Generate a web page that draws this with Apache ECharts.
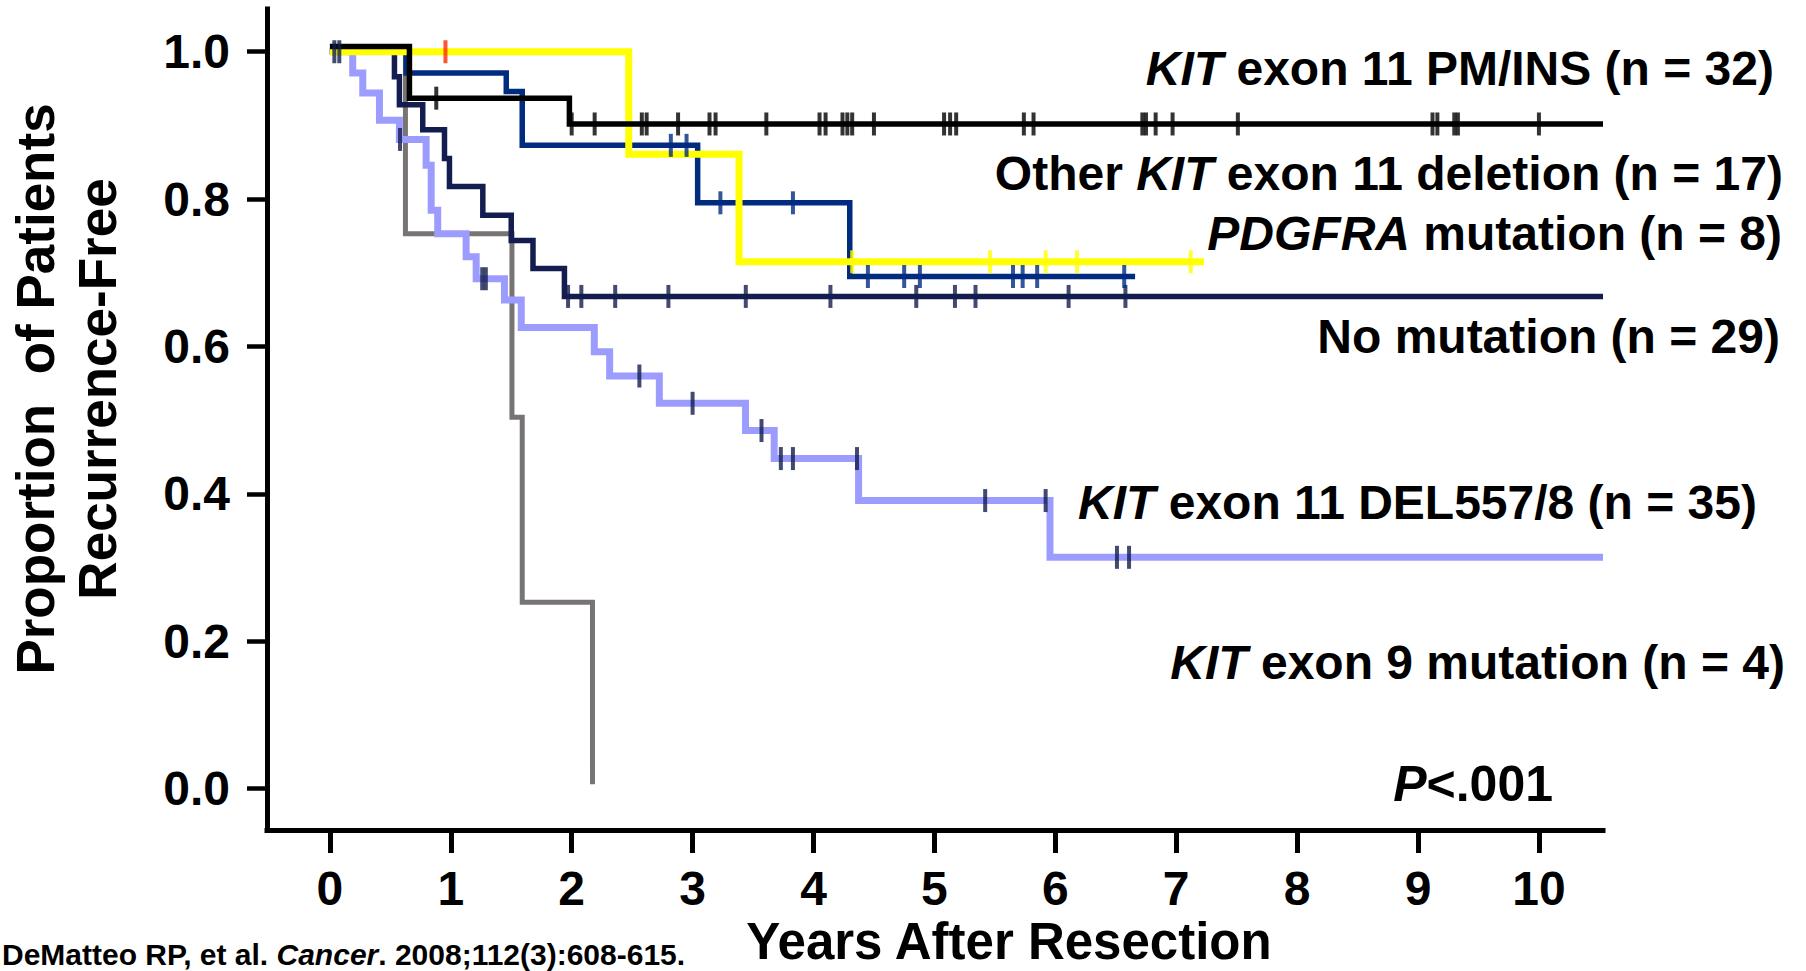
<!DOCTYPE html>
<html>
<head>
<meta charset="utf-8">
<script src="https://cdn.jsdelivr.net/npm/echarts@6/dist/echarts.min.js"></script>
<style>
  html, body { margin: 0; padding: 0; background: #fff; }
  #chart { width: 1806px; height: 971px; }
</style>
</head>
<body>
<div id="chart"></div>
<script>
// ---------------- DATA ----------------
// Kaplan-Meier step curves: [years, proportion recurrence-free]
const pmInsCurve = [[0,1.007],[0.658,0.937],[1.981,0.902],[10.53,0.902]];
const pmInsCensor = [0.88,2.00,2.19,2.58,2.62,2.88,3.14,3.19,3.61,4.05,4.10,4.24,4.28,4.32,4.50,5.08,5.13,5.18,5.74,5.82,6.72,6.75,6.83,6.97,7.51,9.12,9.16,9.30,9.33,10.00];

const otherDelCurve = [[0,1.0],[0.631,0.971],[1.459,0.946],[1.591,0.873],[3.042,0.795],[4.30,0.695],[6.66,0.695]];
const otherDelCensor = [2.82,2.95,3.23,3.83,4.45,4.75,4.88,5.65,5.73,5.85,6.57];

const pdgfraCurve = [[0,1.0],[2.472,0.861],[3.384,0.715],[7.23,0.715]];
const pdgfraCensor = [0.956,4.32,5.46,5.92,6.18,7.12];

const noMutCurve = [[0,1.0],[0.534,0.966],[0.575,0.928],[0.768,0.894],[0.948,0.855],[0.989,0.817],[1.265,0.778],[1.50,0.744],[1.68,0.706],[1.94,0.668],[10.53,0.668]];
const noMutCensor = [0.037,0.078,1.97,2.08,2.36,2.80,3.44,4.14,4.85,5.17,5.34,6.11,6.58];

const del557Curve = [[0,1.0],[0.189,0.971],[0.272,0.944],[0.410,0.907],[0.575,0.881],[0.796,0.846],[0.838,0.785],[0.892,0.753],[1.127,0.722],[1.210,0.692],[1.444,0.663],[1.583,0.626],[2.187,0.593],[2.314,0.560],[2.725,0.523],[3.438,0.486],[3.675,0.448],[4.373,0.391],[5.956,0.314],[10.53,0.314]];
const del557Censor = [0.58,1.26,1.29,2.56,3.00,3.57,3.73,3.83,4.36,5.42,5.92,6.51,6.61];

const exon9Curve = [[0,1.0],[0.625,0.753],[1.506,0.504],[1.591,0.253],[2.172,0.006]];

const xTickValues = [0,1,2,3,4,5,6,7,8,9,10];
const yTickValues = [0,0.2,0.4,0.6,0.8,1.0];

const groupLabels = [
  '{i|KIT} exon 11 PM/INS (n = 32)',
  'Other {i|KIT} exon 11 deletion (n = 17)',
  '{i|PDGFRA} mutation (n = 8)',
  'No mutation (n = 29)',
  '{i|KIT} exon 11 DEL557/8 (n = 35)',
  '{i|KIT} exon 9 mutation (n = 4)'
];
const pValueLabel = '{i|P}<.001';
const xTitle = 'Years After Resection';
const yTitleLines = ['Proportion  of Patients', 'Recurrence-Free'];
const citation = 'DeMatteo RP, et al. {i|Cancer}. 2008;112(3):608-615.';

// ---------------- helpers ----------------
function stepValue(curve, t) {
  let v = curve[0][1];
  for (const p of curve) { if (p[0] <= t) v = p[1]; }
  return v;
}
function censorData(curve, times) {
  return times.map(t => [t, stepValue(curve, t)]);
}

const FONT = "'Liberation Sans', Arial, Helvetica, sans-serif";
const C = {
  black: '#000000', blue: '#002b7f', yellow: '#ffff00', navy: '#131d4f',
  light: '#9c9cff', gray: '#787474', red: '#ff2a00'
};

function lineSeries(name, data, color, width, z) {
  return { name, type: 'line', step: 'end', data, symbol: 'none', showSymbol: false,
    lineStyle: { color, width, cap: 'butt', join: 'miter' }, z, silent: true, animation: false };
}
function tickSeries(name, data, color, z) {
  return { name, type: 'scatter', data, symbol: 'rect', symbolSize: [4, 23],
    itemStyle: { color }, z, silent: true, animation: false };
}

const pdgfraTicks = censorData(pdgfraCurve, pdgfraCensor).map((p, i) =>
  i === 0 ? { value: p, itemStyle: { color: C.red } } : { value: p });

const labelPos = [[1774,68],[1783,173],[1782,233],[1780,336],[1757,502],[1785,662]];
const richItalic = { i: { fontStyle: 'italic', fontWeight: 'bold', fontSize: 48, fontFamily: FONT } };

const graphics = groupLabels.map((t, i) => ({
  type: 'text', x: labelPos[i][0], y: labelPos[i][1], silent: true, z: 100,
  style: { text: t, align: 'right', verticalAlign: 'middle', fill: '#000',
    fontSize: 48, fontWeight: 'bold', fontFamily: FONT, rich: richItalic }
}));
graphics.push({ type: 'text', x: 1553, y: 784, silent: true, z: 100,
  style: { text: pValueLabel, align: 'right', verticalAlign: 'middle', fill: '#000',
    fontSize: 50, fontWeight: 'bold', fontFamily: FONT,
    rich: { i: { fontStyle: 'italic', fontWeight: 'bold', fontSize: 50, fontFamily: FONT } } } });
graphics.push({ type: 'text', x: 1009, y: 941, silent: true, z: 100,
  style: { text: xTitle, align: 'center', verticalAlign: 'middle', fill: '#000',
    fontSize: 51, lineHeight: 42, fontWeight: 'bold', fontFamily: FONT } });
graphics.push({ type: 'text', x: 35, y: 389, rotation: Math.PI / 2, silent: true, z: 100,
  style: { text: yTitleLines[0], align: 'center', verticalAlign: 'middle', fill: '#000',
    fontSize: 53, fontWeight: 'bold', fontFamily: FONT } });
graphics.push({ type: 'text', x: 97, y: 389, rotation: Math.PI / 2, silent: true, z: 100,
  style: { text: yTitleLines[1], align: 'center', verticalAlign: 'middle', fill: '#000',
    fontSize: 53, fontWeight: 'bold', fontFamily: FONT } });
graphics.push({ type: 'text', x: 2, y: 954, silent: true, z: 100,
  style: { text: citation, align: 'left', verticalAlign: 'middle', fill: '#000',
    fontSize: 30, lineHeight: 30, fontWeight: 'bold', fontFamily: FONT,
    rich: { i: { fontStyle: 'italic', fontWeight: 'bold', fontSize: 30, lineHeight: 30, fontFamily: FONT } } } });

const option = {
  backgroundColor: '#ffffff',
  animation: false,
  grid: { left: 267, right: 203, top: 9, bottom: 141, containLabel: false },
  xAxis: {
    type: 'value', min: -0.52, max: 10.53,
    axisLine: { show: true, onZero: false, lineStyle: { color: '#000', width: 5, cap: 'square' } },
    axisTick: { show: true, customValues: xTickValues, length: 23, lineStyle: { color: '#000', width: 5 } },
    axisLabel: { show: true, customValues: xTickValues, margin: 34, color: '#000',
      fontSize: 48, fontWeight: 'bold', fontFamily: FONT },
    splitLine: { show: false }
  },
  yAxis: {
    type: 'value', min: -0.056, max: 1.058,
    axisLine: { show: true, onZero: false, lineStyle: { color: '#000', width: 5, cap: 'square' } },
    axisTick: { show: true, customValues: yTickValues, length: 20, lineStyle: { color: '#000', width: 4.5 } },
    axisLabel: { show: true, customValues: yTickValues, margin: 37, color: '#000',
      fontSize: 48, fontWeight: 'bold', fontFamily: FONT,
      formatter: v => Number(v).toFixed(1) },
    splitLine: { show: false }
  },
  series: [
    lineSeries('KIT exon 9 mutation', exon9Curve, C.gray, 5, 2),
    lineSeries('KIT exon 11 DEL557/8', del557Curve, C.light, 7, 3),
    lineSeries('No mutation', noMutCurve, C.navy, 5.5, 4),
    lineSeries('Other KIT exon 11 deletion', otherDelCurve, C.blue, 5.5, 5),
    lineSeries('PDGFRA mutation', pdgfraCurve, C.yellow, 7, 6),
    lineSeries('KIT exon 11 PM/INS', pmInsCurve, C.black, 5.5, 7),
    tickSeries('DEL557/8 censored', censorData(del557Curve, del557Censor), C.navy, 10),
    tickSeries('No mutation censored', censorData(noMutCurve, noMutCensor), C.navy, 10),
    tickSeries('Other deletion censored', censorData(otherDelCurve, otherDelCensor), C.blue, 10),
    tickSeries('PDGFRA censored', pdgfraTicks, C.yellow, 10),
    tickSeries('PM/INS censored', censorData(pmInsCurve, pmInsCensor), C.black, 10)
  ],
  graphic: graphics
};

const chart = echarts.init(document.getElementById('chart'), null, { renderer: 'svg', width: 1806, height: 971 });
chart.setOption(option);
</script>
</body>
</html>
